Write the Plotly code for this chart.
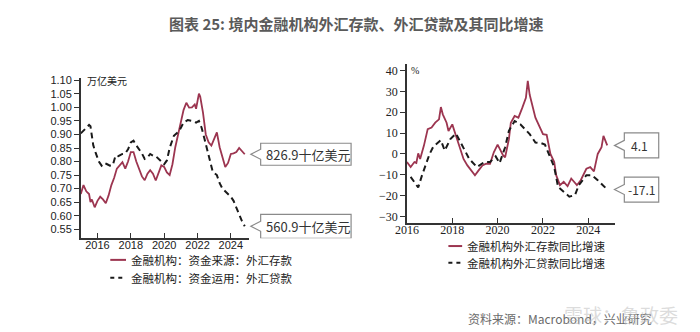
import plotly.graph_objects as go

# ---- Left panel: FX deposits / loans of domestic financial institutions (USD trillion)
dep_dates = ["2015-01", "2015-03", "2015-05", "2015-07", "2015-08", "2015-09", "2015-11",
             "2016-01", "2016-03", "2016-05", "2016-07", "2016-09", "2016-11",
             "2017-01", "2017-03", "2017-05", "2017-07", "2017-09", "2017-11",
             "2018-01", "2018-03", "2018-05", "2018-07", "2018-09", "2018-11",
             "2019-01", "2019-03", "2019-05", "2019-07", "2019-09", "2019-11",
             "2020-01", "2020-03", "2020-05", "2020-07", "2020-09", "2020-11",
             "2021-01", "2021-03", "2021-05", "2021-07", "2021-09", "2021-11", "2021-12",
             "2022-02", "2022-03", "2022-05", "2022-07", "2022-09", "2022-11",
             "2023-01", "2023-03", "2023-05", "2023-07", "2023-09", "2023-11",
             "2024-01", "2024-03", "2024-05", "2024-07", "2024-09", "2024-11"]
dep_vals = [0.680, 0.713, 0.690, 0.680, 0.650, 0.660, 0.631,
            0.655, 0.670, 0.660, 0.646, 0.675, 0.713,
            0.740, 0.774, 0.785, 0.798, 0.774, 0.800,
            0.835, 0.835, 0.800, 0.770, 0.745, 0.731,
            0.755, 0.768, 0.755, 0.730, 0.760, 0.786,
            0.780, 0.760, 0.750, 0.790, 0.853, 0.900,
            0.950, 0.990, 1.017, 0.999, 1.000, 1.011, 0.995,
            1.051, 1.040, 0.981, 0.900, 0.871, 0.859,
            0.883, 0.908, 0.853, 0.820, 0.780, 0.795,
            0.828, 0.830, 0.835, 0.850, 0.840, 0.8269]

loan_dates = ["2015-01", "2015-04", "2015-07", "2015-08", "2015-10", "2015-12",
              "2016-02", "2016-04", "2016-06", "2016-08", "2016-10", "2016-12",
              "2017-02", "2017-04", "2017-07", "2017-09", "2017-11",
              "2018-01", "2018-03", "2018-05", "2018-07", "2018-09", "2018-11",
              "2019-01", "2019-03", "2019-05", "2019-07", "2019-09", "2019-11",
              "2020-01", "2020-03", "2020-05", "2020-08", "2020-10", "2020-12",
              "2021-03", "2021-06", "2021-09", "2021-12",
              "2022-02", "2022-04", "2022-06", "2022-08", "2022-10", "2022-12",
              "2023-03", "2023-05", "2023-07", "2023-09", "2023-11",
              "2024-01", "2024-03", "2024-05", "2024-07", "2024-09", "2024-11"]
loan_vals = [0.904, 0.920, 0.935, 0.930, 0.860, 0.828,
             0.800, 0.785, 0.795, 0.790, 0.785, 0.786,
             0.822, 0.820, 0.828, 0.830, 0.845,
             0.871, 0.877, 0.860, 0.847, 0.830, 0.810,
             0.815, 0.828, 0.822, 0.820, 0.810, 0.798,
             0.790, 0.804, 0.850, 0.895, 0.905, 0.914,
             0.944, 0.953, 0.950, 0.944,
             0.950, 0.925, 0.885, 0.840, 0.800, 0.762,
             0.750, 0.720, 0.700, 0.690, 0.677,
             0.670, 0.655, 0.630, 0.600, 0.580, 0.5609]

# ---- Right panel: year-on-year growth (%)
depg_dates = ["2016-01", "2016-03", "2016-05", "2016-06", "2016-07", "2016-08", "2016-10", "2016-12",
              "2017-02", "2017-04", "2017-06", "2017-07", "2017-08", "2017-10", "2017-11",
              "2018-01", "2018-03", "2018-05", "2018-07", "2018-09",
              "2019-01", "2019-03", "2019-05", "2019-07", "2019-09", "2019-11",
              "2020-01", "2020-04", "2020-05", "2020-07", "2020-08", "2020-10", "2020-12",
              "2021-02", "2021-04", "2021-05", "2021-06", "2021-09", "2021-11",
              "2022-01", "2022-03", "2022-05", "2022-07", "2022-08", "2022-10", "2022-12",
              "2023-02", "2023-04", "2023-07", "2023-09", "2023-12",
              "2024-02", "2024-04", "2024-06", "2024-08", "2024-09", "2024-11"]
depg_vals = [-3.9, -6.3, -3.9, -4.3, 0.3, -2.4, 4.0, 11.9,
             12.7, 15.0, 16.6, 22.5, 19.0, 15.0, 11.0,
             14.2, 8.7, 3.2, -2.4, -5.5,
             -10.2, -7.9, -5.5, -4.7, -4.7, 0.8,
             4.5, -0.8, -1.6, 7.1, 15.0, 18.2, 17.4,
             22.1, 26.9, 35.1, 28.4, 17.4, 13.5,
             9.5, 9.2, 0.0, -3.9, -10.2, -15.0, -13.4,
             -15.5, -11.8, -15.0, -12.6, -7.1,
             -6.3, -8.4, 0.0, 3.2, 8.7, 4.1]

loang_dates = ["2016-03", "2016-07", "2016-09", "2017-01", "2017-03", "2017-07", "2017-09", "2017-12",
               "2018-03", "2018-06", "2018-10", "2019-02", "2019-06", "2019-09", "2019-12",
               "2020-02", "2020-05", "2020-07", "2020-10", "2021-01", "2021-03", "2021-06",
               "2021-09", "2021-12", "2022-02", "2022-04", "2022-07", "2022-09", "2022-12",
               "2023-03", "2023-06", "2023-08", "2023-12", "2024-03", "2024-06", "2024-11"]
loang_vals = [-11.0, -16.1, -10.2, 0.0, 3.5, 6.6, 1.6, 7.1,
              9.8, 4.7, -2.4, -6.3, -3.9, -3.9, -1.2,
              -4.4, 3.2, 11.1, 15.8, 14.2, 12.3, 9.5,
              5.5, 5.2, 4.5, 0.0, -6.3, -15.8, -18.2,
              -20.5, -19.7, -15.0, -10.2, -10.2, -12.6, -17.1]

left_ticks = ["2016", "2018", "2020", "2022", "2024"]
right_ticks = ["2016", "2018", "2020", "2022", "2024"]

names = ["金融机构：资金来源：外汇存款", "金融机构：资金运用：外汇贷款",
         "金融机构外汇存款同比增速", "金融机构外汇贷款同比增速"]

RED = "#9c3550"
BLACK = "#1a1a1a"
AXIS = "#333333"

fig = go.Figure()
fig.add_trace(go.Scatter(x=dep_dates, y=dep_vals, mode="lines", name=names[0],
                         line=dict(color=RED, width=1.8), xaxis="x", yaxis="y"))
fig.add_trace(go.Scatter(x=loan_dates, y=loan_vals, mode="lines", name=names[1],
                         line=dict(color=BLACK, width=2, dash="6px,4px"), xaxis="x", yaxis="y"))
fig.add_trace(go.Scatter(x=depg_dates, y=depg_vals, mode="lines", name=names[2],
                         line=dict(color=RED, width=1.8), xaxis="x2", yaxis="y2"))
fig.add_trace(go.Scatter(x=loang_dates, y=loang_vals, mode="lines", name=names[3],
                         line=dict(color=BLACK, width=2, dash="6px,4px"), xaxis="x2", yaxis="y2"))

sans = "Liberation Sans, Arial, sans-serif"
serif = "Liberation Serif, Times New Roman, serif"

common_axis = dict(showgrid=False, zeroline=False, showline=True, linecolor=AXIS,
                   linewidth=1.5, tickcolor=AXIS, ticklen=5, tickwidth=1.2)

fig.update_layout(
    width=700, height=332,
    margin=dict(l=0, r=0, t=0, b=0),
    paper_bgcolor="white", plot_bgcolor="white",
    showlegend=False,
    xaxis=dict(domain=[0.100, 0.345], anchor="y", type="date",
               range=["2015-01-01", "2025-02-10"],
               tickvals=[t + "-01-01" for t in left_ticks], ticktext=left_ticks,
               ticks="inside", ticklabelstandoff=-4,
               tickfont=dict(family=sans, size=11, color="#222"),
               **common_axis),
    yaxis=dict(domain=[0.286, 0.774], anchor="x", range=[0.517, 1.108],
               tickvals=[0.55 + 0.05 * i for i in range(12)], tickformat=".2f",
               ticks="outside", tickfont=dict(family=sans, size=11, color="#222"),
               **common_axis),
    xaxis2=dict(domain=[0.574, 0.876], anchor="y2", type="date",
                range=["2016-01-01", "2025-03-01"],
                tickvals=[t + "-01-01" for t in right_ticks], ticktext=right_ticks,
                ticks="inside", ticklabelstandoff=-5,
                tickfont=dict(family=serif, size=12, color="#222"),
                **common_axis),
    yaxis2=dict(domain=[0.332, 0.816], anchor="x2", range=[-33.2, 43],
                tickvals=list(range(-30, 41, 10)),
                ticks="outside", tickfont=dict(family=serif, size=12, color="#222"),
                **common_axis),
)

cjk = "Noto Sans CJK SC, sans-serif"


def label(text, xp, yp, size, color, family=cjk, xanchor="left"):
    fig.add_annotation(text=text, xref="paper", yref="paper", x=xp / 700, y=1 - yp / 332,
                       xanchor=xanchor, yanchor="middle", showarrow=False,
                       font=dict(family=family, size=size, color=color))


# Title
label("<b>图表 25: 境内金融机构外汇存款、外汇贷款及其同比增速</b>", 350, 20, 15, "#5a5a5a",
      xanchor="center")

# Unit labels
label("万亿美元", 74, 77, 10, "#222")
label("%", 404, 67, 10, "#222", family=serif)

# Legends (sample line + label)
legend_rows = [
    (100, 116, 259, RED, "solid", names[0]),
    (100, 116, 277, BLACK, "4px,4px", names[1]),
    (444, 458, 245, RED, "solid", names[2]),
    (444, 458, 262, BLACK, "4px,4px", names[3]),
]
for x0, x1, yp, col, dash, text in legend_rows:
    fig.add_shape(type="line", xref="paper", yref="paper",
                  x0=x0 / 700, x1=x1 / 700, y0=1 - yp / 332, y1=1 - yp / 332,
                  line=dict(color=col, width=2, dash=dash))
    label(text, x1 + 3, yp, 11.5, "#222")


def callout(axis_y, value, text, tip, left, right, half_h, notch, font_size, xshift):
    """Speech-bubble label pointing left at the series' last value."""
    t, l, r = tip / 700, left / 700, right / 700
    path = (f"M {l},{notch} L {t},0 L {l},{-notch} L {l},{-half_h} "
            f"L {r},{-half_h} L {r},{half_h} L {l},{half_h} Z")
    fig.add_shape(type="path", xref="paper", yref=axis_y, ysizemode="pixel", yanchor=value,
                  path=path, line=dict(color="#8a8a8a", width=1.2), fillcolor="white")
    fig.add_annotation(text=text, xref="paper", yref=axis_y, x=(left + xshift) / 700, y=value,
                       xanchor="left", yanchor="middle", showarrow=False,
                       font=dict(family=cjk, size=font_size, color="#333"))


callout("y", dep_vals[-1], f"{dep_vals[-1] * 1000:.1f}十亿美元", 243, 253, 345, 11, 5, 13, 3)
callout("y", loan_vals[-1], f"{loan_vals[-1] * 1000:.1f}十亿美元", 243, 253, 345, 12, 5, 13, 3)
callout("y2", depg_vals[-1], f"{depg_vals[-1]:.1f}", 613, 623, 658, 12.5, 5, 12, 5)
callout("y2", loang_vals[-1], f"{loang_vals[-1]:.1f}", 613, 623, 658, 12.5, 5, 12, 2)

# Source line and watermark
label("资料来源：Macrobond，兴业研究", 462, 318, 12, "#6a6a6a")
label("雪球：鲁政委", 560, 314, 19, "rgba(190,190,190,0.55)")

fig.write_html("out.html")
